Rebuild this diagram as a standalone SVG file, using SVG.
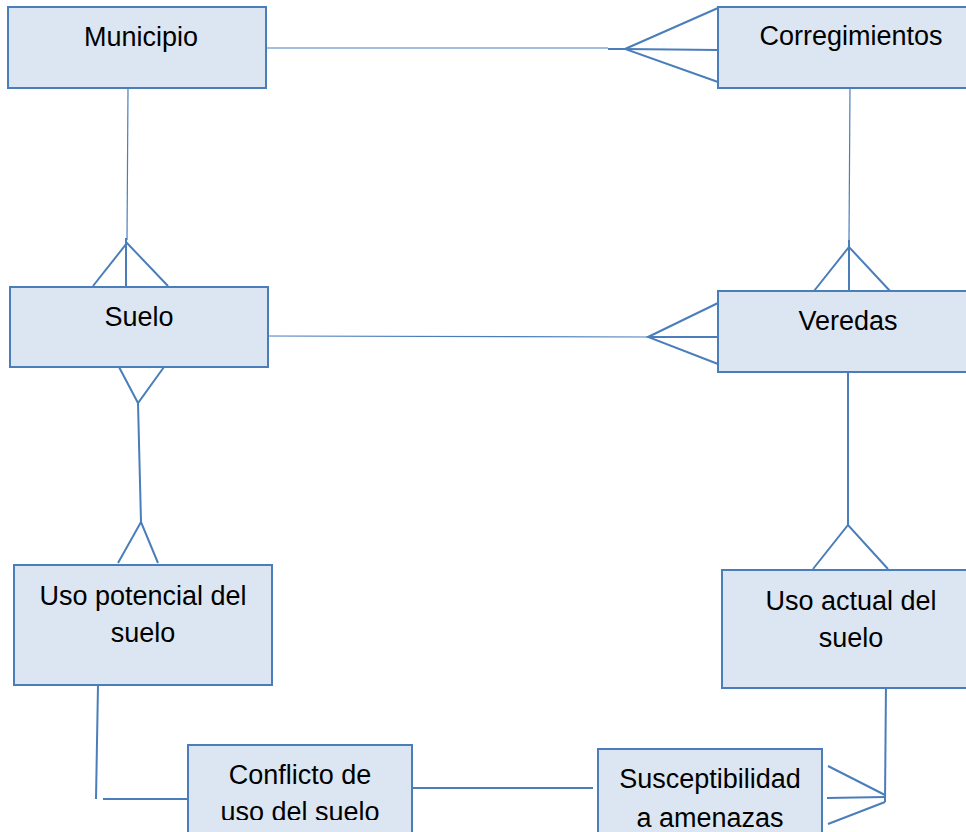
<svg xmlns="http://www.w3.org/2000/svg" width="966" height="832" viewBox="0 0 966 832">
<style>
.box{fill:#dce6f2;stroke:#4a7ebb;stroke-width:2}
.t{font-family:"Liberation Sans",Arial,sans-serif;font-size:27px;fill:#000;text-anchor:middle}
.c{stroke:#4a7ebb;stroke-width:1.2;fill:none}
.f{stroke:#4a7ebb;stroke-width:2;fill:none}
</style>
<defs>
<clipPath id="clipConf"><rect x="188" y="745" width="225" height="75"/></clipPath>
</defs>
<rect width="966" height="832" fill="#fff"/>
<g id="connectors">
<line class="c" x1="266" y1="48" x2="608" y2="48"/>
<line class="f" x1="608" y1="49" x2="625" y2="49"/>
<polyline class="f" points="718,8 625,49 718,82"/>
<line class="f" x1="625" y1="49" x2="718" y2="50"/>
<line class="c" x1="128" y1="88" x2="127" y2="240"/>
<line class="f" x1="126" y1="238" x2="126" y2="287"/>
<polyline class="f" points="93,286 127,243 168,286"/>
<line class="c" x1="850" y1="88" x2="849" y2="240"/>
<line class="f" x1="849" y1="240" x2="849" y2="291"/>
<polyline class="f" points="814,291 849,247 890,291"/>
<line class="c" x1="265" y1="336" x2="648" y2="337"/>
<polyline class="f" points="718,303 648,337 718,364"/>
<line class="f" x1="648" y1="337" x2="725" y2="337"/>
<polyline class="f" points="119,367 138,403 164,367"/>
<line class="f" x1="138" y1="403" x2="141" y2="522"/>
<polyline class="f" points="118,563 141,522 158,563"/>
<line class="f" x1="848" y1="372" x2="848" y2="525"/>
<polyline class="f" points="813,569 848,525 888,569"/>
<line class="f" x1="98" y1="685" x2="96" y2="799"/>
<line class="f" x1="103" y1="799" x2="193" y2="799"/>
<line class="f" x1="413" y1="788" x2="593" y2="788"/>
<line class="f" x1="886" y1="682" x2="885" y2="802"/>
<line class="f" x1="828" y1="766" x2="885" y2="795"/>
<line class="f" x1="827" y1="798" x2="885" y2="797"/>
<line class="f" x1="828" y1="824" x2="885" y2="802"/>
</g>
<g id="municipio">
<rect class="box" x="8" y="7" width="258" height="81"/>
<text class="t" x="141" y="46">Municipio</text>
</g>
<g id="corregimientos">
<rect class="box" x="718" y="7" width="256" height="81"/>
<text class="t" x="851" y="45">Corregimientos</text>
</g>
<g id="suelo">
<rect class="box" x="10" y="287" width="258" height="80"/>
<text class="t" x="139" y="326">Suelo</text>
</g>
<g id="veredas">
<rect class="box" x="718" y="291" width="256" height="81"/>
<text class="t" x="848" y="330">Veredas</text>
</g>
<g id="uso-potencial">
<rect class="box" x="14" y="565" width="258" height="120"/>
<text class="t" x="143" y="605">Uso potencial del</text>
<text class="t" x="143" y="642">suelo</text>
</g>
<g id="uso-actual">
<rect class="box" x="722" y="570" width="252" height="118"/>
<text class="t" x="851" y="610">Uso actual del</text>
<text class="t" x="851" y="647">suelo</text>
</g>
<g id="conflicto">
<rect class="box" x="188" y="745" width="224" height="90"/>
<g clip-path="url(#clipConf)">
<text class="t" x="300" y="784">Conflicto de</text>
<text class="t" x="300" y="821">uso del suelo</text>
</g>
</g>
<g id="susceptibilidad">
<rect class="box" x="598" y="749" width="224" height="90"/>
<text class="t" x="710" y="788">Susceptibilidad</text>
<text class="t" x="710" y="827">a amenazas</text>
</g>
</svg>
